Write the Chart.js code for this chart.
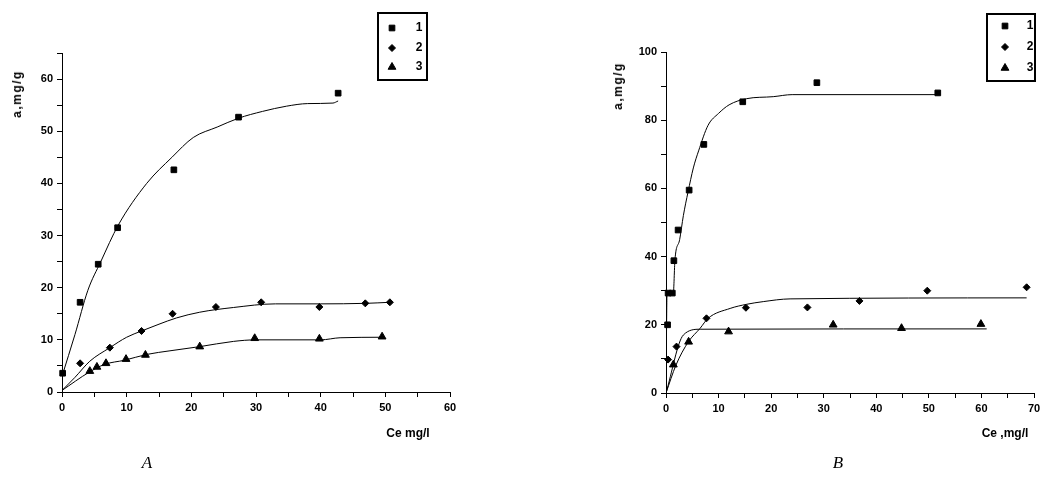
<!DOCTYPE html>
<html>
<head>
<meta charset="utf-8">
<script src="https://cdn.jsdelivr.net/npm/chart.js@4.4.1/dist/chart.umd.min.js"></script>
<style>
  body { margin: 0; width: 1052px; height: 480px; background: #fff; position: relative; overflow: hidden;
         font-family: "Liberation Sans", Arial, sans-serif; }
  .plot { position: absolute; top: 0; width: 526px; height: 480px; }
  .lbl { position: absolute; transform: translate(-50%, -50%); white-space: nowrap;
         font-size: 12px; font-weight: bold; color: #000; }
  .ylbl { transform: translate(-50%, -50%) rotate(-90deg); letter-spacing: 1.5px; }
  .cap { position: absolute; transform: translate(-50%, -50%);
         font: italic 17px "Liberation Serif", "Times New Roman", serif; color: #000; }
</style>
</head>
<body>
<div class="plot" style="left:0"><canvas id="chartA" width="526" height="480"></canvas></div>
<div class="plot" style="left:526px"><canvas id="chartB" width="526" height="480"></canvas></div>

<div class="lbl ylbl" style="left:17px;top:94px">a,mg/g</div>
<div class="lbl" style="left:408px;top:433px">Ce mg/l</div>
<div class="cap" style="left:147px;top:463px">A</div>

<div class="lbl ylbl" style="left:618px;top:86px">a,mg/g</div>
<div class="lbl" style="left:1005px;top:433px">Ce ,mg/l</div>
<div class="cap" style="left:838px;top:463px">B</div>

<script>
// ---- panel A: measured points ----
const aX1 = [0.1, 2.8, 5.6, 8.6, 17.3, 27.3, 42.7];
const aY1 = [3.6, 17.2, 24.5, 31.5, 42.6, 52.7, 57.3];
const aX2 = [2.8, 7.4, 12.3, 17.1, 23.8, 30.8, 39.8, 46.9, 50.7];
const aY2 = [5.5, 8.5, 11.7, 15.0, 16.3, 17.2, 16.3, 17.0, 17.2];
const aX3 = [4.3, 5.4, 6.8, 9.9, 12.9, 21.3, 29.8, 39.8, 49.5];
const aY3 = [4.0, 4.8, 5.5, 6.3, 7.1, 8.7, 10.3, 10.2, 10.6];

// panel A: fitted curves
const aFitX1 = [0, 2, 4, 6, 8.7, 13.1, 17, 20.3, 24, 27.3, 31, 34.7, 38, 41.9, 42.7];
const aFitY1 = [3, 11, 19.5, 25, 32, 40, 45, 48.8, 50.8, 52.5, 53.8, 54.8, 55.3, 55.4, 55.8];
const aFitX2 = [0, 2, 4.3, 7.4, 10, 12.3, 15, 17.7, 21.3, 26.5, 33, 40, 47, 50.7];
const aFitY2 = [0.3, 2.8, 5.9, 8.5, 10.5, 11.7, 13, 14.2, 15.3, 16.2, 16.9, 16.9, 17.0, 17.2];
const aFitX3 = [0, 4.2, 6.6, 9.7, 13.1, 16.7, 21.3, 26.5, 30, 40, 43, 49.5];
const aFitY3 = [0.3, 3.8, 5.3, 6.1, 7.2, 7.9, 8.7, 9.7, 10, 10, 10.4, 10.5];

// ---- panel B: measured points ----
const bX1 = [0.3, 0.4, 1.2, 1.5, 2.3, 4.4, 7.2, 14.6, 28.7, 51.7];
const bY1 = [20, 29.3, 29.3, 38.8, 47.8, 59.5, 72.9, 85.4, 91.0, 88.0];
const bX2 = [0.4, 2.0, 7.7, 15.2, 26.9, 36.8, 49.7, 68.6];
const bY2 = [9.8, 13.6, 21.9, 25.0, 25.1, 27.0, 30.0, 31.0];
const bX3 = [1.4, 4.3, 11.9, 31.8, 44.8, 59.9];
const bY3 = [8.3, 15.0, 18.0, 20.0, 19.0, 20.2];

// panel B: fitted curves
const bFitX1 = [0, 0.2, 1.4, 1.7, 2.6, 3.3, 4.2, 5.2, 6.2, 8, 10, 12, 15.3, 20.4, 24, 52];
const bFitY1 = [0, 29, 29.5, 39, 45, 52, 59, 66, 71, 78.5, 82, 84.5, 86.3, 86.9, 87.5, 87.5];
const bFitX2 = [0, 1.9, 4.25, 6.5, 8, 12.2, 15.3, 18.5, 23.6, 68.6];
const bFitY2 = [0, 8.2, 15, 19, 21.9, 24.8, 26, 26.8, 27.6, 27.9];
const bFitX3 = [0, 3.3, 6.5, 61];
const bFitY3 = [0, 17, 18.7, 18.8];

const seriesNames = ['1', '2', '3'];

const FONT = '"Liberation Sans", Arial, sans-serif';

function pts(xs, ys) {
  return xs.map((x, i) => ({ x: x, y: ys[i] }));
}

function markers(name, xs, ys, style, r) {
  return {
    label: name, data: pts(xs, ys), showLine: false,
    pointStyle: style, pointRadius: r, pointHoverRadius: r,
    backgroundColor: '#000', borderColor: '#000', borderWidth: 1, clip: false
  };
}

function curve(xs, ys) {
  return {
    data: pts(xs, ys), showLine: true, pointRadius: 0, pointHoverRadius: 0,
    borderColor: '#000', borderWidth: 1, fill: false,
    cubicInterpolationMode: 'monotone'
  };
}

function axis(min, max, step, labelEvery, horizontal, size) {
  return {
    type: 'linear', min: min, max: max,
    ticks: {
      stepSize: step, autoSkip: false, maxRotation: 0, padding: 4, color: '#000',
      font: { family: FONT, size: 11, weight: 'bold' },
      callback: v => (v % labelEvery === 0 ? v : '')
    },
    grid: { drawOnChartArea: false, drawTicks: true, tickLength: 5, color: '#000', lineWidth: 1 },
    border: { display: true, color: '#000', width: 1 },
    afterFit: s => { if (horizontal) s.height = size; else s.width = size; }
  };
}

// framed legend in the upper right corner
const boxLegend = {
  id: 'boxLegend',
  afterDraw(chart, args, o) {
    const ctx = chart.ctx;
    ctx.save();
    ctx.strokeStyle = '#000';
    ctx.fillStyle = '#000';
    ctx.lineWidth = 2;
    ctx.strokeRect(o.x, o.y, o.w, o.h);
    ctx.font = 'bold 12px ' + FONT;
    ctx.textAlign = 'center';
    ctx.textBaseline = 'middle';
    const sets = chart.data.datasets.filter(d => !d.showLine);
    sets.forEach((d, i) => {
      const y = o.rows[i];
      ctx.lineWidth = 1;
      Chart.helpers.drawPoint(ctx, { pointStyle: d.pointStyle, radius: d.pointRadius, rotation: 0, borderWidth: 1 },
        o.x + o.markerX, y);
      ctx.fillText(d.label, o.x + o.textX, y);
    });
    ctx.restore();
  }
};

function makeChart(id, datasets, xAxis, yAxis, padding, legend) {
  return new Chart(document.getElementById(id), {
    type: 'scatter',
    data: { datasets: datasets },
    options: {
      responsive: false, animation: false,
      layout: { padding: padding },
      scales: { x: xAxis, y: yAxis },
      plugins: { legend: { display: false }, tooltip: { enabled: false }, boxLegend: legend }
    },
    plugins: [boxLegend]
  });
}

makeChart('chartA', [
  curve(aFitX1, aFitY1), curve(aFitX2, aFitY2), curve(aFitX3, aFitY3),
  markers(seriesNames[0], aX1, aY1, 'rect', 4),
  markers(seriesNames[1], aX2, aY2, 'rectRot', 3.5),
  markers(seriesNames[2], aX3, aY3, 'triangle', 4.5)
],
  axis(0, 60, 5, 10, true, 88),
  axis(0, 65, 5, 10, false, 62),
  { left: 0, top: 53, right: 76, bottom: 0 },
  { x: 378, y: 13, w: 49, h: 67, markerX: 14, textX: 41, rows: [28, 48, 67] });

makeChart('chartB', [
  curve(bFitX1, bFitY1), curve(bFitX2, bFitY2), curve(bFitX3, bFitY3),
  markers(seriesNames[0], bX1, bY1, 'rect', 4),
  markers(seriesNames[1], bX2, bY2, 'rectRot', 3.5),
  markers(seriesNames[2], bX3, bY3, 'triangle', 4.5)
],
  axis(0, 70, 5, 10, true, 87),
  axis(0, 100, 10, 20, false, 140),
  { left: 0, top: 52, right: 18, bottom: 0 },
  { x: 461, y: 14, w: 48, h: 67, markerX: 18, textX: 43, rows: [26, 47, 68] });
</script>
</body>
</html>
